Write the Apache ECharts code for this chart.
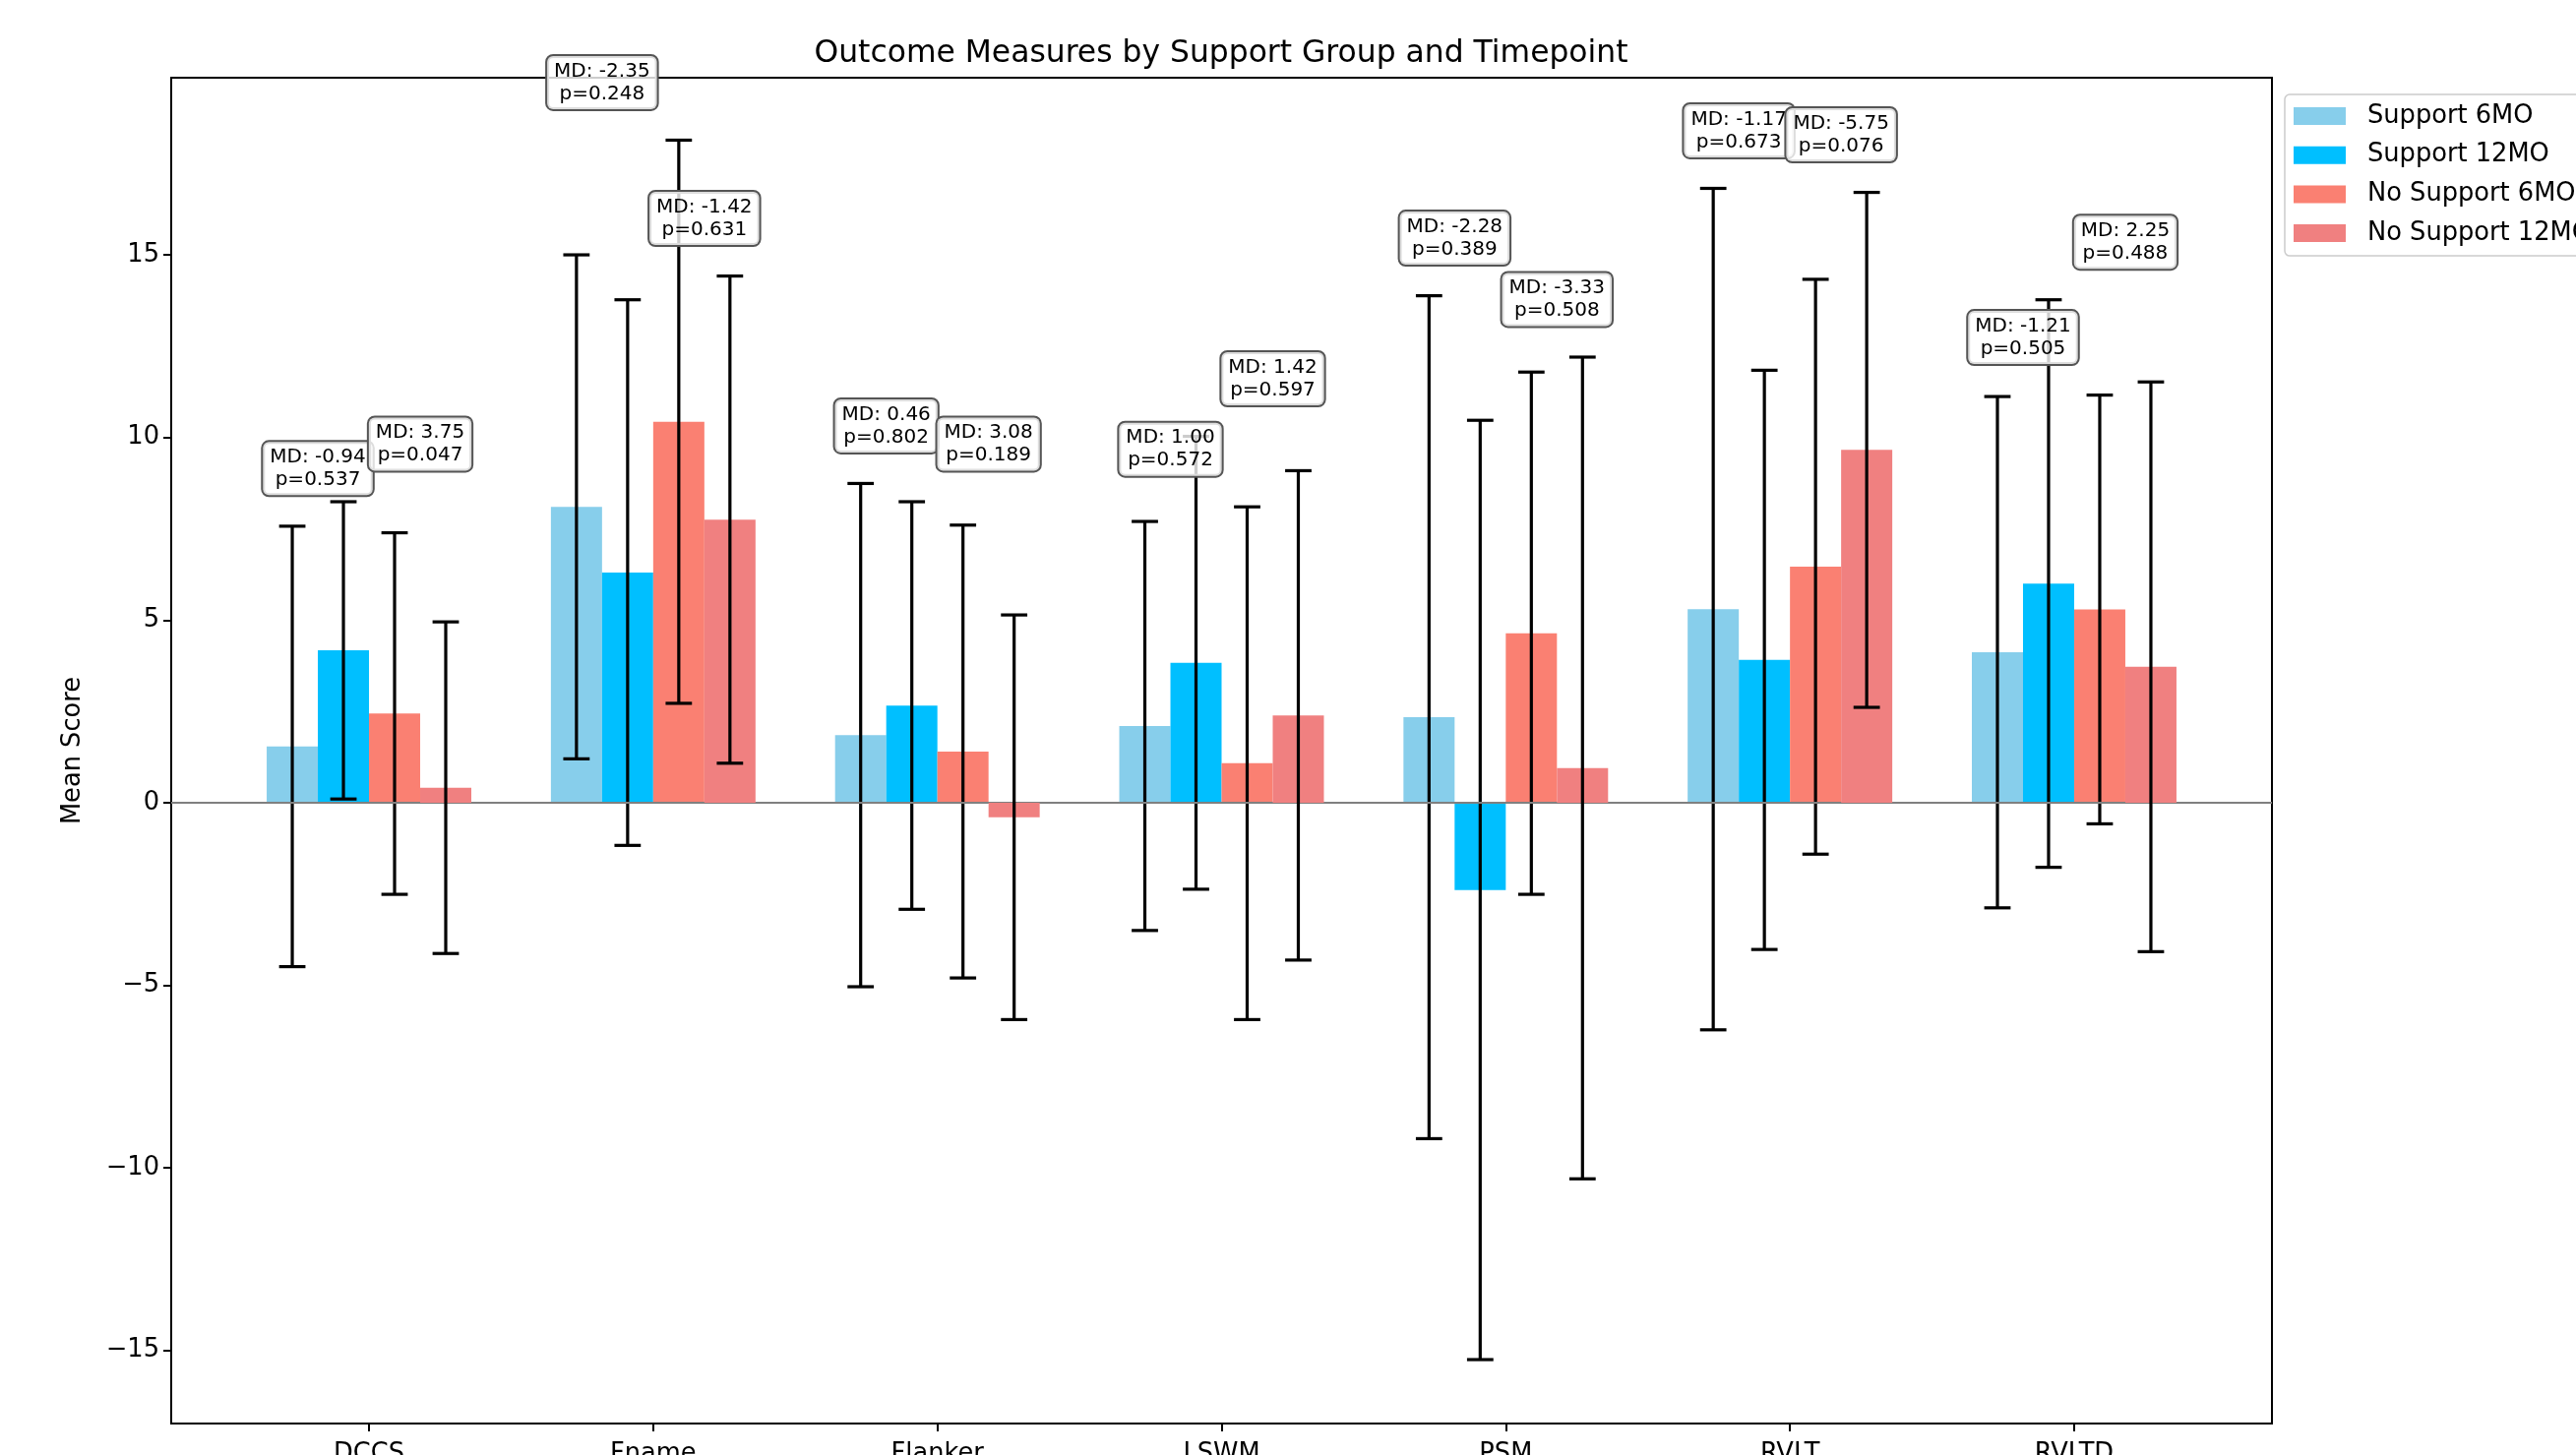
<!DOCTYPE html>
<html>
<head>
<meta charset="utf-8">
<script src="https://cdn.jsdelivr.net/npm/echarts@6/dist/echarts.min.js"></script>
<style>
html,body{margin:0;padding:0;background:#ffffff;}
#chart{width:2618px;height:1479px;}
</style>
</head>
<body>
<div id="chart"></div>
<script>
// ---------------- data ----------------
const categories = ['DCCS', 'Fname', 'Flanker', 'LSWM', 'PSM', 'RVLT', 'RVLTD'];
const seriesNames = ['Support 6MO', 'Support 12MO', 'No Support 6MO', 'No Support 12MO'];

const support6MOMean    = [1.54, 8.10, 1.85, 2.10, 2.34, 5.30, 4.12];
const support6MOSD      = [6.03, 6.90, 6.89, 5.60, 11.54, 11.52, 7.00];
const support12MOMean   = [4.17, 6.30, 2.66, 3.83, -2.39, 3.91, 6.00];
const support12MOSD     = [4.07, 7.47, 5.58, 6.20, 12.86, 7.93, 7.77];
const noSupport6MOMean  = [2.44, 10.43, 1.40, 1.08, 4.64, 6.46, 5.29];
const noSupport6MOSD    = [4.95, 7.71, 6.20, 7.02, 7.15, 7.87, 5.87];
const noSupport12MOMean = [0.41, 7.75, -0.40, 2.39, 0.95, 9.66, 3.72];
const noSupport12MOSD   = [4.54, 6.67, 5.54, 6.70, 11.25, 7.05, 7.80];

const md6MO  = [-0.94, -2.35, 0.46, 1.00, -2.28, -1.17, -1.21];
const p6MO   = [0.537, 0.248, 0.802, 0.572, 0.389, 0.673, 0.505];
const md12MO = [3.75, -1.42, 3.08, 1.42, -3.33, -5.75, 2.25];
const p12MO  = [0.047, 0.631, 0.189, 0.597, 0.508, 0.076, 0.488];

const yTicks = [-15, -10, -5, 0, 5, 10, 15];
const xTicks = [0, 1, 2, 3, 4, 5, 6];

// ---------------- layout / style ----------------
const FONT = 'DejaVu Sans';
const BAR_W = 0.18;
const OFFSETS = [-1.5, -0.5, 0.5, 1.5].map(k => k * BAR_W);
const COLORS = ['#87CEEB', '#00BFFF', '#FA8072', '#F08080'];
const CAP_HALF = 13.4;
const LABEL_DX = 0.18;
const LABEL_DY = 0.85;

const means = [support6MOMean, support12MOMean, noSupport6MOMean, noSupport12MOMean];
const sds = [support6MOSD, support12MOSD, noSupport6MOSD, noSupport12MOSD];

function barRenderer(k) {
  return function (params, api) {
    const i = api.value(0), m = api.value(1), sd = api.value(2);
    const xc = i + OFFSETS[k];
    const a = api.coord([xc - BAR_W / 2, 0]);
    const b = api.coord([xc + BAR_W / 2, m]);
    const top = api.coord([xc, m + sd]);
    const bot = api.coord([xc, m - sd]);
    const errStyle = { stroke: '#000', lineWidth: 3.2 };
    return {
      type: 'group',
      children: [
        { type: 'rect', shape: { x: a[0], y: Math.min(a[1], b[1]), width: b[0] - a[0], height: Math.abs(b[1] - a[1]) },
          style: { fill: COLORS[k] } },
        { type: 'line', z2: 5, shape: { x1: top[0], y1: top[1], x2: bot[0], y2: bot[1] }, style: errStyle },
        { type: 'line', z2: 5, shape: { x1: top[0] - CAP_HALF, y1: top[1], x2: top[0] + CAP_HALF, y2: top[1] }, style: errStyle },
        { type: 'line', z2: 5, shape: { x1: bot[0] - CAP_HALF, y1: bot[1], x2: bot[0] + CAP_HALF, y2: bot[1] }, style: errStyle }
      ]
    };
  };
}

const barSeries = seriesNames.map((name, k) => ({
  name: name,
  type: 'custom',
  z: 2 + k,
  itemStyle: { color: COLORS[k] },
  renderItem: barRenderer(k),
  encode: { x: 0, y: 1 },
  data: categories.map((c, i) => [i, means[k][i], sds[k][i]])
}));

// annotation anchors computed from the data
const annData = [];
categories.forEach((c, i) => {
  const up6 = Math.max(support6MOMean[i] + support6MOSD[i], noSupport6MOMean[i] + noSupport6MOSD[i]);
  const up12 = Math.max(support12MOMean[i] + support12MOSD[i], noSupport12MOMean[i] + noSupport12MOSD[i]);
  annData.push([i - LABEL_DX, up6 + LABEL_DY, 'MD: ' + md6MO[i].toFixed(2) + '\np=' + p6MO[i].toFixed(3)]);
  annData.push([i + LABEL_DX, up12 + LABEL_DY, 'MD: ' + md12MO[i].toFixed(2) + '\np=' + p12MO[i].toFixed(3)]);
});

const annSeries = {
  name: 'annotations',
  type: 'custom',
  z: 20,
  silent: true,
  clip: false,
  encode: { x: 0, y: 1 },
  data: annData,
  renderItem: function (params, api) {
    const p = api.coord([api.value(0), api.value(1)]);
    return {
      type: 'text',
      x: p[0], y: p[1],
      style: {
        text: annData[params.dataIndex][2],
        align: 'center',
        verticalAlign: 'bottom',
        fontFamily: FONT,
        fontSize: 20,
        lineHeight: 23,
        fill: '#000',
        backgroundColor: 'rgba(255,255,255,0.8)',
        borderColor: '#555',
        borderWidth: 2,
        borderRadius: 6,
        padding: [4, 7]
      }
    };
  }
};

const zeroLineSeries = {
  name: 'zero',
  type: 'line',
  z: 10,
  silent: true,
  data: [],
  markLine: {
    silent: true,
    symbol: ['none', 'none'],
    label: { show: false },
    lineStyle: { color: '#808080', width: 2, type: 'solid' },
    data: [{ yAxis: 0 }]
  }
};

const chart = echarts.init(document.getElementById('chart'), null, { renderer: 'canvas' });
chart.setOption({
  animation: false,
  backgroundColor: '#ffffff',
  textStyle: { fontFamily: FONT },
  title: {
    text: 'Outcome Measures by Support Group and Timepoint',
    left: 1241,
    top: 39,
    textAlign: 'center',
    padding: 0,
    textStyle: { fontFamily: FONT, fontSize: 31.4, fontWeight: 'normal', color: '#000' }
  },
  legend: {
    data: seriesNames,
    orient: 'vertical',
    left: 2322,
    top: 96,
    icon: 'rect',
    itemWidth: 53,
    itemHeight: 18,
    itemGap: 13.7,
    padding: [9, 10, 10, 9],
    backgroundColor: 'rgba(255,255,255,0.8)',
    borderColor: '#cccccc',
    borderWidth: 1.5,
    borderRadius: 5,
    textStyle: { fontFamily: FONT, fontSize: 25.7, lineHeight: 26, color: '#000', padding: [0, 0, 0, 17] }
  },
  grid: {
    left: 174,
    right: 309,
    top: 79,
    bottom: 32,
    show: true,
    borderColor: '#000',
    borderWidth: 2,
    containLabel: false,
    outerBoundsMode: 'none'
  },
  xAxis: {
    type: 'value',
    min: -0.696,
    max: 6.696,
    splitLine: { show: false },
    axisLine: { show: true, onZero: false, lineStyle: { color: '#000', width: 2 } },
    axisTick: { show: true, customValues: xTicks, length: 8, lineStyle: { color: '#000', width: 2 } },
    axisLabel: {
      customValues: xTicks,
      formatter: v => categories[Math.round(v)],
      fontFamily: FONT, fontSize: 25.7, color: '#000', margin: 18
    }
  },
  yAxis: {
    type: 'value',
    min: -17.0,
    max: 19.85,
    name: 'Mean Score',
    nameLocation: 'middle',
    nameGap: 87,
    nameTextStyle: { fontFamily: FONT, fontSize: 25.7, color: '#000' },
    splitLine: { show: false },
    axisLine: { show: true, onZero: false, lineStyle: { color: '#000', width: 2 } },
    axisTick: { show: true, customValues: yTicks, length: 8, lineStyle: { color: '#000', width: 2 } },
    axisLabel: {
      customValues: yTicks,
      formatter: v => (v < 0 ? '\u2212' + Math.abs(v) : String(v)),
      fontFamily: FONT, fontSize: 25.7, color: '#000', margin: 12
    }
  },
  series: barSeries.concat([zeroLineSeries, annSeries])
});
</script>
</body>
</html>
